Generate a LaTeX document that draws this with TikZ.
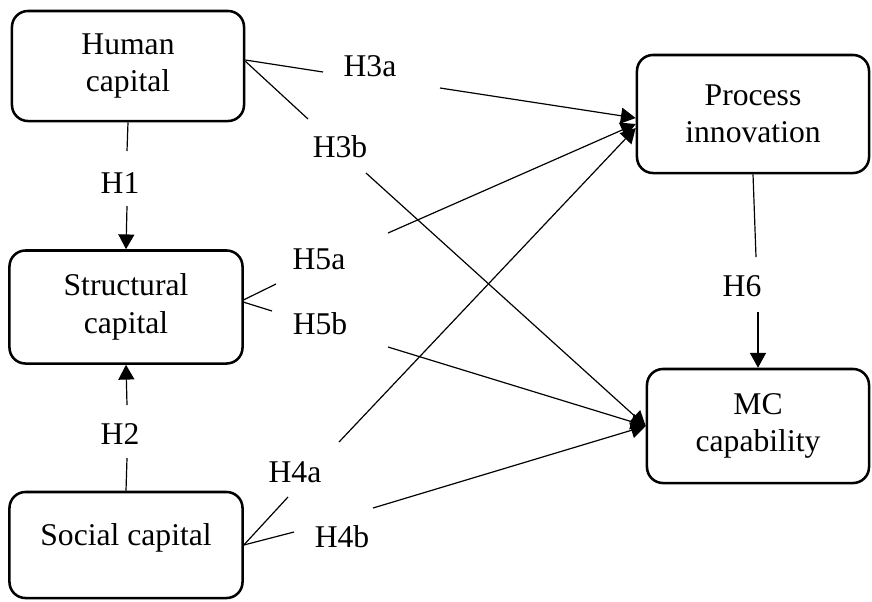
\documentclass[tikz,border=0pt]{standalone}
\usepackage{fontspec}
\setmainfont{Liberation Serif}
\usepackage{tikz}
\usetikzlibrary{arrows.meta}

\tikzset{
    box/.style={draw, line width=1.8pt, rounded corners=0.4cm, align=center,
        font=\fontsize{22.5}{26.5}\selectfont},
    hyp/.style={inner sep=0pt, font=\fontsize{22.5}{26.5}\selectfont},
    link/.style={line width=0.85pt},
    arr/.style={link, -{Triangle[length=0.37cm,width=0.4cm]}}
}

\begin{document}
\begin{tikzpicture}[x=0.025cm, y=-0.025cm]
    \useasboundingbox (0,0) rectangle (872,601);
    % constructs
    \node[box, minimum width=5.8cm, minimum height=2.75cm] (hc) at (128,66) {Human\\capital};
    \node[box, minimum width=5.825cm, minimum height=2.825cm] (sc) at (126,307) {Structural\\capital};
    \node[box, minimum width=5.825cm, minimum height=2.65cm, text height=0.5cm, text depth=0.5cm] (soc) at (126,545) {Social capital};
    \node[box, minimum width=5.8cm, minimum height=2.95cm] (pi) at (753,114) {Process\\innovation};
    \node[box, minimum width=5.55cm, minimum height=2.85cm] (mc) at (758,426) {MC\\capability};
    % hypothesis labels
    \foreach \h/\x/\y in {H1/120/183, H2/120/434, H3a/370/66, H3b/340/147, H4a/295/472,
                          H4b/342/537, H5a/319/259, H5b/320/324, H6/742/286}
        \node[hyp] (\h) at (\x,\y) {\h};
    % where the links break around the labels
    \foreach \h/\xa/\ya/\xb/\yb in {H1/127/151/127/206, H2/127/458/127/405,
                                    H3a/323/72/440/88, H3b/308/119/366/173,
                                    H4a/288/497/339/442, H4b/294/532/373/508,
                                    H5a/276/284/388/233, H5b/272/311/388/347,
                                    H6/756/257/758/312} {
        \coordinate (\h-in) at (\xa,\ya);
        \coordinate (\h-out) at (\xb,\yb);
    }
    % links
    \draw[link] (hc.south) -- (H1-in);  \draw[arr] (H1-out) -- (sc.north);
    \draw[link] (soc.north) -- (H2-in); \draw[arr] (H2-out) -- (sc.south);
    \draw[link] ([yshift=0.15cm]hc.east) -- (H3a-in); \draw[arr] (H3a-out) -- ([yshift=-0.1cm]pi.west);
    \draw[link] ([yshift=0.12cm]hc.east) -- (H3b-in); \draw[arr] (H3b-out) -- (mc.west);
    \draw[link] (soc.east) -- (H4a-in); \draw[arr] (H4a-out) -- ([yshift=-0.35cm]pi.west);
    \draw[link] (soc.east) -- (H4b-in); \draw[arr] (H4b-out) -- (mc.west);
    \draw[link] ([yshift=0.18cm]sc.east) -- (H5a-in); \draw[arr] (H5a-out) -- ([yshift=-0.25cm]pi.west);
    \draw[link] ([yshift=0.12cm]sc.east) -- (H5b-in); \draw[arr] (H5b-out) -- (mc.west);
    \draw[link] (pi.south) -- (H6-in);  \draw[arr] (H6-out) -- (mc.north);
\end{tikzpicture}
\end{document}
